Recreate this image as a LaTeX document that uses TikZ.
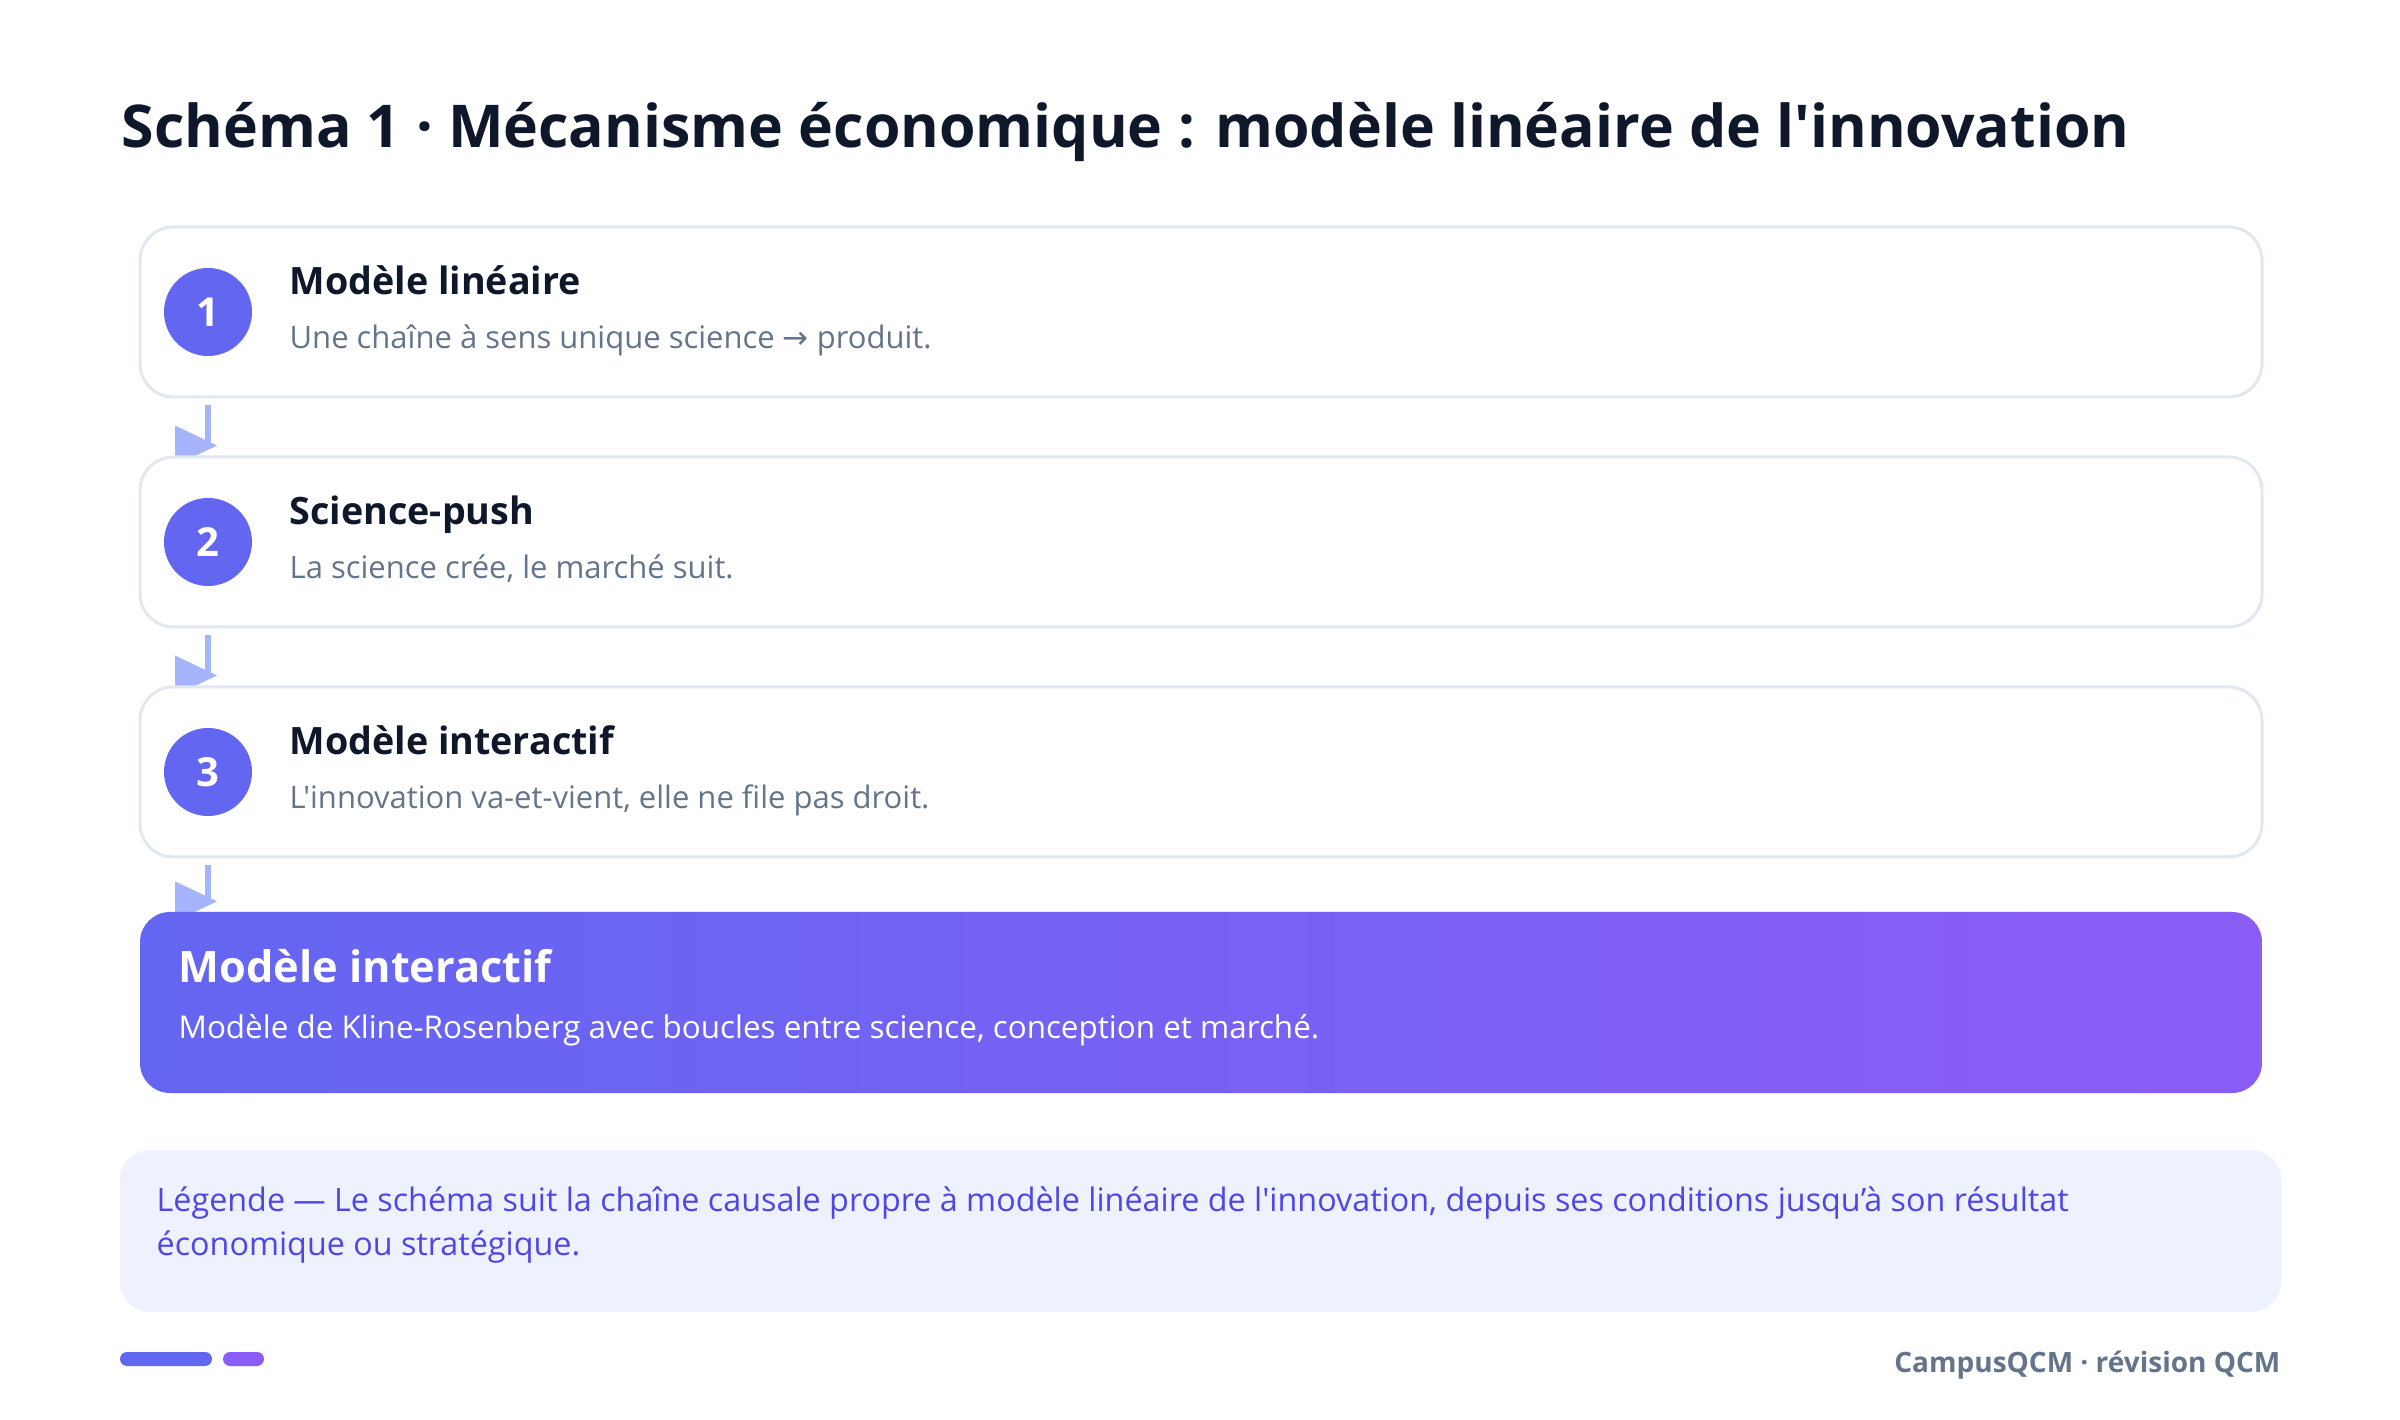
\documentclass[tikz,border=0pt]{standalone}
\usepackage{fontspec}
\setmainfont{Open Sans}[Ligatures=TeXOff]
\newfontfamily\arrowfont{DejaVu Sans}
\usetikzlibrary{backgrounds}
\definecolor{titlec}{HTML}{0F172A}
\definecolor{descc}{HTML}{64748B}
\definecolor{cardline}{HTML}{E2E8F0}
\definecolor{arrowc}{HTML}{A5B4FC}
\definecolor{indigo}{HTML}{6366F1}
\definecolor{violet}{HTML}{8B5CF6}
\definecolor{legfill}{HTML}{EEF2FF}
\definecolor{legtext}{HTML}{4F46E5}
\tikzset{
  card/.style={draw=cardline, line width=0.9pt, fill=white, rounded corners=10pt,
    minimum width=636.6pt, minimum height=51pt, inner sep=0pt},
  numc/.style={circle, fill=indigo, minimum size=26.4pt, inner sep=0pt,
    text=white, font=\fontsize{12}{14}\selectfont\bfseries},
  headt/.style={anchor=base west, inner sep=0pt, text=titlec,
    font=\fontsize{11.3}{14}\selectfont\bfseries},
  desct/.style={anchor=base west, inner sep=0pt, text=descc,
    font=\fontsize{9.3}{12}\selectfont},
  legt/.style={anchor=base west, inner sep=0pt, text=legtext,
    font=\fontsize{9.69}{12}\selectfont},
  flowline/.style={draw=arrowc, line width=1.8pt},
  flowtip/.style={fill=arrowc},
}
\begin{document}
\begin{tikzpicture}[x=0.3pt,y=-0.3pt]
\useasboundingbox (0,0) rectangle (2400,1420);
% title
\node[anchor=base west, inner sep=0pt, text=titlec,
  font=\fontsize{17.7}{20}\selectfont\bfseries] (title) at (121,148)
  {Schéma 1 · Mécanisme économique : modèle linéaire de l'innovation};
% cards
\node[card] (b1) at (1201,312) {};
\node[card] (b2) at (1201,542) {};
\node[card] (b3) at (1201,772) {};
\node[numc] (n1) at (208,312) {1};
\node[numc] (n2) at (208,542) {2};
\node[numc] (n3) at (208,772) {3};
\node[headt] (h1) at (289,295) {Modèle linéaire};
\node[desct] (d1) at (289,349) {Une chaîne à sens unique science {\arrowfont →} produit.};
\node[headt] (h2) at (289,525) {Science-push};
\node[desct] (d2) at (289,579) {La science crée, le marché suit.};
\node[headt] (h3) at (289,755) {Modèle interactif};
\node[desct] (d3) at (289,809) {L'innovation va-et-vient, elle ne file pas droit.};
% result box
\shade[left color=indigo, right color=violet, rounded corners=9pt]
  (140,912) rectangle (2262,1093);
\node[inner sep=0pt, minimum width=636.6pt, minimum height=54.3pt] (res) at (1201,1002.5) {};
\node[anchor=base west, inner sep=0pt, text=white,
  font=\fontsize{13}{15}\selectfont\bfseries] (rh) at (178,983) {Modèle interactif};
\node[anchor=base west, inner sep=0pt, text=white,
  font=\fontsize{9.42}{12}\selectfont] (rd) at (178,1038)
  {Modèle de Kline-Rosenberg avec boucles entre science, conception et marché.};
% connectors (behind cards)
\begin{scope}[on background layer]
\fill[white] (0,0) rectangle (2400,1420);
\foreach \a/\b in {b1/b2, b2/b3, b3/res}{
  \draw[flowline] ([yshift=-2.1pt]\a.south -| n1.center) -- ([yshift=3pt]\b.north -| n1.center);
  \fill[flowtip] ([shift={(-33,-30)}]\b.north -| n1.center) -- ([shift={(9,-10)}]\b.north -| n1.center)
     -- ([shift={(-33,10)}]\b.north -| n1.center) -- cycle;
}
\end{scope}
% legend
\node[fill=legfill, rounded corners=9pt, minimum width=648.3pt, minimum height=48.6pt,
  inner sep=0pt] (leg) at (1200.5,1231) {};
\node[legt] (legt1) at (156,1211)
  {Légende — Le schéma suit la chaîne causale propre à modèle linéaire de l'innovation, depuis ses conditions jusqu’à son résultat};
\node[legt] (legt2) at (156,1255) {économique ou stratégique.};
% footer
\fill[indigo, rounded corners=2.1pt] (120,1352) rectangle (212,1366);
\fill[violet, rounded corners=2.1pt] (223,1352) rectangle (264,1366);
\node[anchor=base east, inner sep=0pt, text=descc,
  font=\fontsize{8.4}{12}\selectfont\bfseries] (foot) at (2281,1372) {CampusQCM · révision QCM};
\end{tikzpicture}
\end{document}
